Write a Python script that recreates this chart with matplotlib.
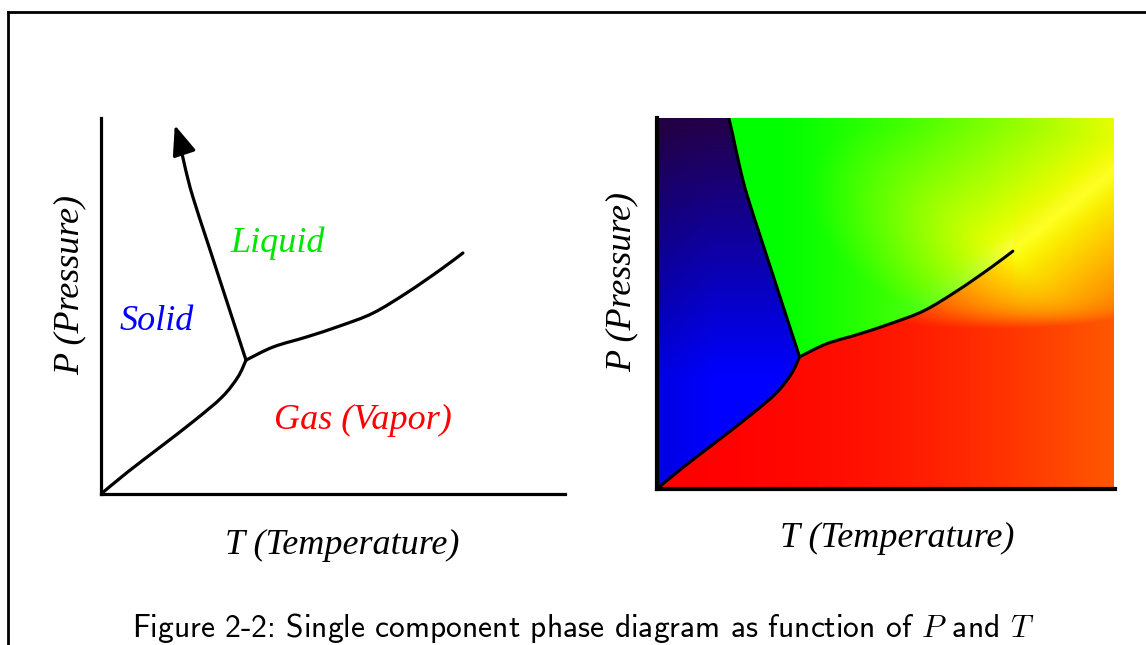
import numpy as np
import matplotlib
matplotlib.use("Agg")
import matplotlib.pyplot as plt
from matplotlib.lines import Line2D
from matplotlib.path import Path
from matplotlib.patches import PathPatch

plt.rcParams['mathtext.fontset'] = 'cm'

# phase boundaries, normalised (T, P) in [0, 1]
sub_T = [0.0, 0.058, 0.131, 0.203, 0.261, 0.295, 0.3125]
sub_P = [0.0, 0.059, 0.128, 0.197, 0.258, 0.311, 0.356]
melt_T = [0.3125, 0.235, 0.198, 0.181, 0.166]
melt_P = [0.356, 0.649, 0.790, 0.870, 0.955]
arrow_tip = (0.159, 0.981)
vap_T = [0.3125, 0.371, 0.444, 0.515, 0.586, 0.659, 0.731, 0.780]
vap_P = [0.356, 0.391, 0.418, 0.447, 0.481, 0.535, 0.596, 0.641]

labels = {"Solid": (157, 322, "#0000ff"),
          "Liquid": (278, 243, "#00e600"),
          "Gas (Vapor)": (363, 420, "#ff0000")}

W, H = 1146, 645
fig = plt.figure(figsize=(W / 100, H / 100), dpi=100)

def fx(x):
    return x / W

def fy(y):
    return 1 - y / H

def smooth_curve(ax, xs, ys, **kw):
    # catmull-rom through the points, drawn as cubic bezier segments
    p = np.column_stack([xs, ys])
    p = np.vstack([p[0], p, p[-1]])
    verts = [p[1]]
    codes = [Path.MOVETO]
    for i in range(1, len(p) - 2):
        c1 = p[i] + (p[i + 1] - p[i - 1]) / 6
        c2 = p[i + 1] - (p[i + 2] - p[i]) / 6
        verts += [c1, c2, p[i + 1]]
        codes += [Path.CURVE4] * 3
    ax.add_patch(PathPatch(Path(verts, codes), fill=False, capstyle="round", **kw))

serif = dict(family="Liberation Serif", style="italic", size=26)

# ---------- left: line sketch ----------
ax1 = fig.add_axes([fx(101), fy(494), 464 / W, 376 / H])
smooth_curve(ax1, sub_T, sub_P, color="k", lw=2.3)
smooth_curve(ax1, vap_T, vap_P, color="k", lw=2.3)
smooth_curve(ax1, melt_T, melt_P, color="k", lw=2.3)
ax1.annotate("", xy=arrow_tip, xytext=(melt_T[-1], melt_P[-1]),
             arrowprops=dict(arrowstyle="-|>,head_length=0.7,head_width=0.28", color="k", lw=2.3,
                             mutation_scale=26, shrinkA=0, shrinkB=0))
ax1.set_xlim(0, 1)
ax1.set_ylim(0, 1)
for s in ["top", "right"]:
    ax1.spines[s].set_visible(False)
for s in ["left", "bottom"]:
    ax1.spines[s].set_linewidth(2.3)
ax1.set_xticks([])
ax1.set_yticks([])
ax1.patch.set_alpha(0)

for txt, (x, y, c) in labels.items():
    fig.text(fx(x), fy(y), txt, color=c, ha="center", va="center", **serif)

# ---------- right: coloured map ----------
n = 500
T, P = np.meshgrid(np.linspace(0, 1, n), np.linspace(0, 1, n))
Tt, Pt = vap_T[0], vap_P[0]
Tc, Pc = vap_T[-1], vap_P[-1]

melt_top = melt_T[-1] - (1.0 - melt_P[-1]) * 0.19
Tm = np.interp(P, melt_P + [1.0], melt_T + [melt_top])
Ps = np.interp(T, sub_T, sub_P)
slope = (vap_P[-1] - vap_P[-2]) / (vap_T[-1] - vap_T[-2])
Pv = np.where(T <= Tc, np.interp(T, vap_T, vap_P), Pc + (T - Tc) * slope)

solid = np.where(P >= Pt, T < Tm, (T < Tt) & (P > Ps))
# liquid share of the fluid: sharp below Tc, soft above it
hard = (P >= Pv).astype(float)
soft = 1 / (1 + np.exp(-(P - Pv) / 0.04))
a = np.where(T <= Tc, hard, soft) * ~solid
g = (1 - a) * ~solid

# closeness to the supercritical ray leaving the critical point
dT, dP = T - Tc, P - Pc
t = (dT + dP) * 0.7071
perp = np.abs(dT - dP) * 0.7071
d = np.sqrt(perp ** 2 + (1.5 * np.minimum(t, 0)) ** 2)
w = np.clip(1 - 1.8 * d, 0, 1)

img = np.zeros((n, n, 3))
# solid
s = np.clip((P - 0.3) / 0.7, 0, 1)
edge = 0.88 + 0.12 * np.clip(T / 0.12, 0, 1)
img[..., 0] += solid * (36 / 255) * s ** 1.3
img[..., 2] += solid * (1 - 0.72 * s) * edge
# liquid
R_l = np.maximum(np.clip((T - 0.25) / 0.75, 0, 1) ** 1.3 * 0.9, w)
img[..., 0] += a * R_l
img[..., 1] += a * 1.0
img[..., 2] += a * 0.25 * np.exp(-((P - Pv) / 0.05) ** 2) * w
# gas
band = 1 / (1 + np.exp(-(P - 0.44) / 0.02))
G_g = np.maximum(0.35 * T ** 2, w * band)
img[..., 0] += g * 1.0
img[..., 1] += g * G_g
img = np.clip(img, 0, 1)

ax2 = fig.add_axes([fx(657), fy(489), 458 / W, 371 / H])
ax2.imshow(img, origin="lower", extent=[0, 1, 0, 1], aspect="auto",
           interpolation="bilinear")
smooth_curve(ax2, melt_T + [melt_top], melt_P + [1.0], color="k", lw=2.2)
smooth_curve(ax2, sub_T, sub_P, color="k", lw=2.2)
smooth_curve(ax2, vap_T, vap_P, color="k", lw=2.2)
ax2.set_xlim(0, 1.004)
ax2.set_ylim(0, 1)
for s_ in ["top", "right"]:
    ax2.spines[s_].set_visible(False)
for s_ in ["left", "bottom"]:
    ax2.spines[s_].set_linewidth(3)
ax2.set_xticks([])
ax2.set_yticks([])

# axis titles
fig.text(fx(342), fy(545), "T (Temperature)", ha="center", va="center", **serif)
fig.text(fx(897), fy(538), "T (Temperature)", ha="center", va="center", **serif)
fig.text(fx(70), fy(285), "P (Pressure)", ha="center", va="center", rotation=90, **serif)
fig.text(fx(622), fy(282), "P (Pressure)", ha="center", va="center", rotation=90, **serif)

# caption
fig.text(fx(583), fy(628), r"Figure 2-2: Single component phase diagram as function of $P$ and $T$",
         ha="center", va="center", family="cmss10", size=22.7)

# page frame
fig.add_artist(Line2D([fx(8), fx(8)], [0, fy(12)], color="k", lw=2))
fig.add_artist(Line2D([fx(8), 1], [fy(12), fy(12)], color="k", lw=2))

fig.savefig("out.png", dpi=100)
